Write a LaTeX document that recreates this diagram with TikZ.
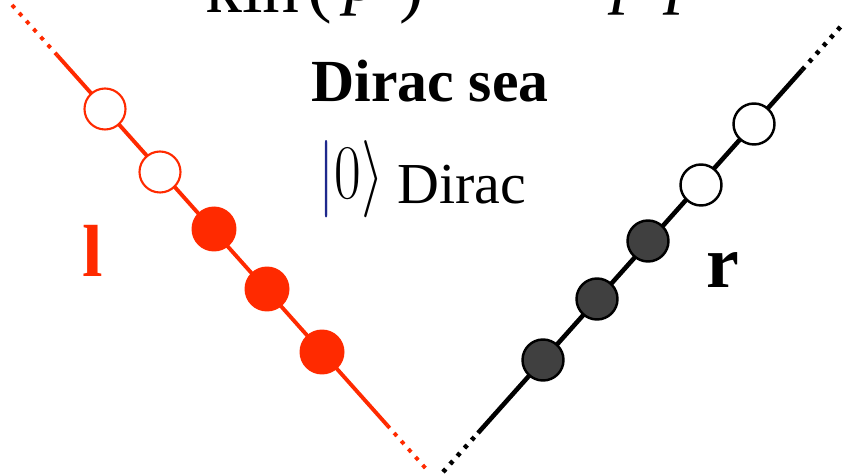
\RequirePackage{fix-cm}
\documentclass[tikz,border=0pt]{standalone}
\usepackage{fontspec}
\setmainfont{Liberation Serif}

\definecolor{seared}{RGB}{255,42,0}
\definecolor{seagray}{RGB}{64,64,64}
\definecolor{ketblue}{RGB}{30,40,140}

\begin{document}
\begin{tikzpicture}[
    x=0.02cm,
    y=-0.02cm,
    redline/.style={draw=seared, line width=2.2pt},
    blackline/.style={draw=black, line width=2.6pt},
    dotline/.style={dash pattern=on 2.3pt off 3.8pt},
    redhole/.style={draw=seared, fill=white, circle, line width=1.2pt, minimum size=0.82cm, inner sep=0pt},
    redfull/.style={fill=seared, circle, minimum size=0.9cm, inner sep=0pt},
    blackhole/.style={draw=black, fill=white, circle, line width=1.4pt, minimum size=0.82cm, inner sep=0pt},
    blackfull/.style={draw=black, fill=seagray, circle, line width=1.4pt, minimum size=0.82cm, inner sep=0pt},
    toptext/.style={anchor=base west, inner sep=0pt, font=\fontsize{42}{46}\selectfont},
    label/.style={anchor=base, inner sep=0pt, font=\fontsize{42}{46}\selectfont\bfseries}
]
\useasboundingbox (0,0) rectangle (844,475);
\clip (0,0) rectangle (844,475);

\node[toptext] (kin) at (205,13) {kin};
\node[toptext] (arg) at (307,9) {(\,\raisebox{5pt}{\textit{p}}\ )};
\node[toptext] (pp) at (612,0) {\textit{p p}};

\node[anchor=base, inner sep=0pt, font=\fontsize{34}{38}\selectfont\bfseries] (sea) at (430,102) {Dirac sea};
\node[anchor=base west, inner sep=0pt] (ket) at (318,199)
    {\fontsize{44}{48}\selectfont\scalebox{0.75}[1]{$\textcolor{ketblue}{|}0\rangle$}\hspace{8pt}\raisebox{-2.3pt}{\fontsize{33}{36}\selectfont Dirac}};

\coordinate (ltop) at (12,5);
\coordinate (la) at (57,55);
\coordinate (lb) at (387,425);
\coordinate (lbot) at (428,471);
\coordinate (rbot) at (443,472);
\coordinate (ra) at (478,433);
\coordinate (rb) at (802,70);
\coordinate (rtop) at (843,24);

\draw[redline, dotline] (ltop) -- (la);
\draw[redline] (la) -- (lb);
\draw[redline, dotline] (lb) -- (lbot);
\draw[blackline, dotline] (rbot) -- (ra);
\draw[blackline] (ra) -- (rb);
\draw[blackline, dotline] (rb) -- (rtop);

\node[redhole] (l1) at (105,109) {};
\node[redhole] (l2) at (160,172) {};
\node[redfull] (l3) at (214,229) {};
\node[redfull] (l4) at (267,289) {};
\node[redfull] (l5) at (322,352) {};

\node[blackfull] (r1) at (543,360) {};
\node[blackfull] (r2) at (597,299) {};
\node[blackfull] (r3) at (648,241) {};
\node[blackhole] (r4) at (701,185) {};
\node[blackhole] (r5) at (754,124) {};

\node[label, text=seared] (llbl) at (93,277) {l};
\node[label] (rlbl) at (723,288) {r};
\end{tikzpicture}
\end{document}
